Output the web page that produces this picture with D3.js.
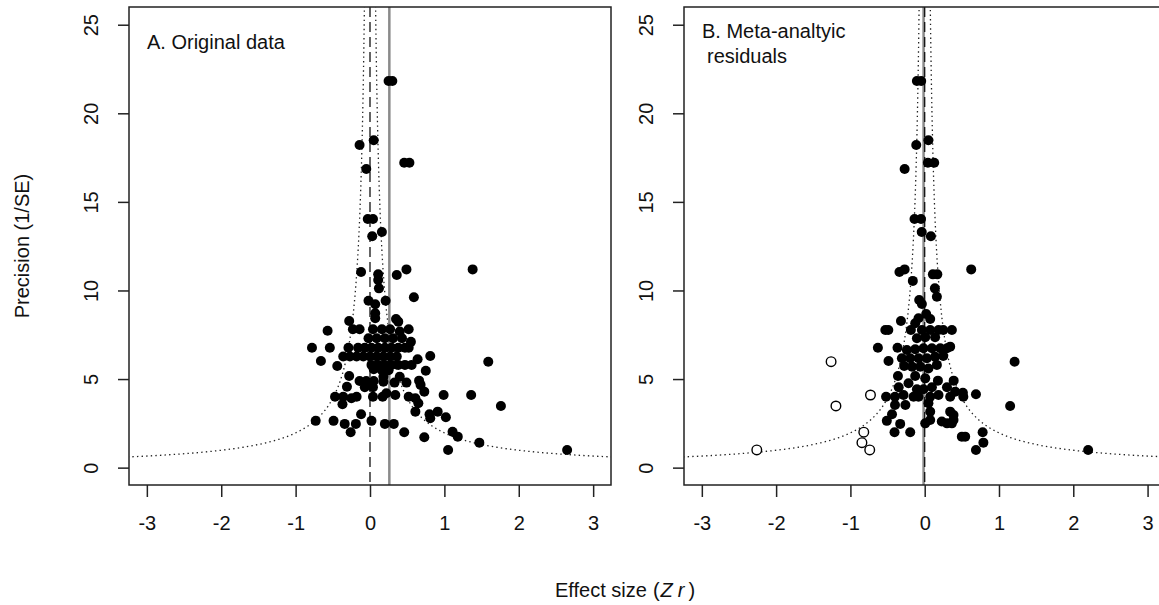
<!DOCTYPE html>
<html>
<head>
<meta charset="utf-8">
<script src="https://d3js.org/d3.v7.min.js"></script>
<style>
body { margin: 0; background: #fff; }
svg { display: block; font-family: "Liberation Sans", Arial, sans-serif; }
</style>
</head>
<body>
<svg width="1159" height="605"></svg>
<script>
// panel A - original data: effect size (Zr) and precision (1/SE)
var zrA = [0.25, 0.30, -0.14, 0.05, 0.46, 0.53, -0.05, -0.03, 0.04, 0.16, 0.03, -0.12, 0.11, 0.11, 0.12, 0.36, 0.49, 1.38,
    -0.02, 0.07, 0.21, 0.59, 0.07, 0.07, -0.28, 0.35, 0.38, -0.57, -0.23, -0.14, 0.04, 0.16, 0.27, 0.40, 0.52,
    -0.02, 0.09, 0.20, 0.31, 0.43, 0.55, -0.78, -0.54, -0.29, -0.16, -0.07, 0.02, 0.11, 0.20, 0.29, 0.38, 0.47, 0.52,
    -0.66, -0.44, -0.36, -0.27, -0.18, -0.09, 0.00, 0.09, 0.18, 0.27, 0.36, 0.64, 0.81,
    0.02, 0.11, 0.20, 0.29, 0.38, 0.47, 0.56, 0.75, 0.05, 0.16, 0.25, -0.28, 0.18, 0.18, 0.40, -0.14, -0.05, 0.05,
    0.66, 0.68, 0.49, 0.33, -0.31, -0.07, 0.04, -0.47, -0.36, -0.25, -0.18, 0.04, 0.17, 0.22, 0.34, 0.52, 0.61, 0.65,
    0.73, 0.99, 1.36, -0.37, -0.12, 0.61, 0.80, 0.81, 0.91, 1.02, -0.73, -0.49, -0.34, -0.19, -0.26, 0.02, 0.20, 0.32,
    0.46, 0.73, 1.11, 1.18, 1.05, 1.47, 1.59, 1.76, 2.65]
var precA = [21.82, 21.82, 18.21, 18.48, 17.21, 17.21, 16.86, 14.03, 14.03, 13.30, 13.06, 11.04, 10.91, 10.59, 10.12, 10.87, 11.19, 11.19,
    9.42, 9.22, 9.42, 9.62, 8.71, 8.43, 8.28, 8.39, 8.24, 7.73, 7.81, 7.81, 7.81, 7.81, 7.81, 7.68, 7.81,
    7.30, 7.30, 7.30, 7.30, 7.30, 7.10, 6.77, 6.77, 6.77, 6.77, 6.77, 6.77, 6.77, 6.77, 6.77, 6.77, 6.77, 6.77,
    6.02, 5.74, 6.27, 6.27, 6.27, 6.27, 6.27, 6.27, 6.27, 6.27, 6.27, 6.12, 6.30,
    5.80, 5.80, 5.80, 5.80, 5.80, 5.80, 5.80, 5.47, 5.55, 5.50, 5.50, 5.17, 5.13, 4.85, 5.13, 4.89, 4.89, 4.89,
    4.91, 4.67, 4.80, 4.80, 4.57, 4.54, 4.54, 4.00, 4.00, 3.92, 4.00, 4.00, 4.00, 4.20, 4.10, 4.00, 3.92, 3.63,
    4.29, 4.10, 4.10, 3.58, 3.01, 3.16, 3.01, 2.79, 3.16, 2.84, 2.64, 2.64, 2.47, 2.47, 2.00, 2.64, 2.47, 2.47,
    2.00, 1.72, 2.03, 1.75, 1.00, 1.41, 5.98, 3.48, 1.00]

// panel B - meta-analytic residuals
var zrB = [-0.105, -0.047, -0.114, 0.05, 0.043, 0.128, -0.27, -0.137, -0.05, -0.04, 0.083, -0.34, -0.27, -0.16, 0.11, 0.17,
    0.137, 0.626, -0.074, -0.038, 0.164, 0.02, 0.074, -0.32, -0.083, -0.128, -0.53, -0.49, -0.186,
    -0.038, 0.074, 0.186, 0.25, 0.366, -0.105, 0.007, 0.14, -0.63,
    -0.366, -0.24, -0.128, -0.016, 0.097, 0.209, 0.30, 0.343, -0.487,
    -0.307, -0.195, -0.083, 0.03, 0.14, 0.25, -0.276, -0.17, -0.06, 0.05, 0.164, 1.21,
    -0.36, -0.128, 0.007, -0.218, -0.35, 0.178, 0.39, 0.30, 0.41, -0.105, -0.016, 0.097, 0.514, 0.52, 0.69,
    -0.52, -0.40, -0.285, -0.15, -0.083, 0.074, 0.186, 0.343, -0.40, -0.26, 0.05, 0.074, 0.343, 0.388, 1.15,
    -0.44, -0.51, -0.33, 0.007, 0.074, 0.23, 0.30, 0.366, 0.388, -0.406, -0.195, 0.50, 0.545, 0.78, 0.79, 0.69, 2.20]
var precB = [21.82, 21.82, 18.21, 18.48, 17.21, 17.21, 16.86, 14.03, 14.03, 13.30, 13.06, 11.04, 11.19, 10.54, 10.91, 10.91,
    10.12, 11.19, 9.46, 9.24, 9.65, 8.67, 8.39, 8.28, 8.43, 8.15, 7.77, 7.77, 7.77,
    7.77, 7.77, 7.77, 7.77, 7.77, 7.30, 7.36, 7.36, 6.77,
    6.77, 6.64, 6.68, 6.74, 6.74, 6.74, 6.74, 6.83, 6.02,
    6.17, 6.17, 6.17, 6.17, 6.26, 6.30, 5.74, 5.70, 5.70, 5.60, 5.80, 5.98,
    5.17, 5.17, 5.04, 4.76, 4.54, 4.91, 4.91, 4.54, 4.29, 4.42, 4.42, 4.54, 4.23, 4.00, 4.14,
    4.00, 4.00, 4.10, 4.00, 4.00, 4.00, 4.10, 4.00, 3.54, 3.54, 3.63, 3.16, 3.16, 2.97, 3.48,
    3.01, 2.64, 2.47, 2.50, 2.69, 2.60, 2.50, 2.50, 2.69, 2.00, 2.00, 1.75, 1.75, 2.00, 1.41, 1.00, 1.00]
// trim-and-fill imputed studies (open circles)
var zrFill = [-2.26, -1.26, -1.195, -0.82, -0.845, -0.74, -0.73]
var precFill = [1.00, 5.98, 3.48, 2.00, 1.41, 1.00, 4.10]

// overall estimates (grey solid lines)
var estA = 0.26
var estB = -0.015

var xTicks = [-3, -2, -1, 0, 1, 2, 3]
var yTicks = [0, 5, 10, 15, 20, 25]
var funnelZ = 1.96

var svg = d3.select('svg')
var top_ = 7, bottom = 485

function drawPanel(id, left, right, pts, openPts, est) {
    var x = d3.scaleLinear().domain([-3.24, 3.24]).range([left, right])
    var y = d3.scaleLinear().domain([-0.98, 26.0]).range([bottom, top_])
    var g = svg.append('g')

    g.append('clipPath').attr('id', 'clip' + id)
        .append('rect').attr('x', left).attr('y', top_)
        .attr('width', right - left).attr('height', bottom - top_)
    var plot = g.append('g').attr('clip-path', 'url(#clip' + id + ')')

    // funnel (pseudo 95% CI around zero)
    var precs = d3.range(0.3, 26.6, 0.05)
    var line = d3.line().x(d => x(d[0])).y(d => y(d[1]))
    ;[-1, 1].forEach(s => {
        plot.append('path')
            .attr('d', line(precs.map(p => [s * funnelZ / p, p])))
            .attr('fill', 'none').attr('stroke', '#222')
            .attr('stroke-width', 1.3).attr('stroke-dasharray', '1.4,3.2')
    })

    // grey line at estimate, dashed line at zero
    plot.append('line')
        .attr('x1', x(est)).attr('x2', x(est)).attr('y1', top_).attr('y2', bottom)
        .attr('stroke', '#8a8a8a').attr('stroke-width', 2.5)
    plot.append('line')
        .attr('x1', x(0)).attr('x2', x(0)).attr('y1', top_).attr('y2', bottom)
        .attr('stroke', '#111').attr('stroke-width', 1.3).attr('stroke-dasharray', '10,5')

    plot.append('g').selectAll('circle').data(pts)
        .enter().append('circle')
        .attr('cx', d => x(d[0])).attr('cy', d => y(d[1]))
        .attr('r', 5).attr('fill', '#000')

    plot.append('g').selectAll('circle').data(openPts)
        .enter().append('circle')
        .attr('cx', d => x(d[0])).attr('cy', d => y(d[1]))
        .attr('r', 4.8).attr('fill', '#fff').attr('stroke', '#000').attr('stroke-width', 1.4)

    // frame
    g.append('rect').attr('x', left).attr('y', top_)
        .attr('width', right - left).attr('height', bottom - top_)
        .attr('fill', 'none').attr('stroke', '#222').attr('stroke-width', 1.5)

    var xAxis = g.append('g').attr('transform', `translate(0,${bottom})`)
        .call(d3.axisBottom(x).tickValues(xTicks).tickSize(12).tickFormat(d => String(d)))
    var yAxis = g.append('g').attr('transform', `translate(${left},0)`)
        .call(d3.axisLeft(y).tickValues(yTicks).tickSize(11).tickFormat(d => String(d)))
    ;[xAxis, yAxis].forEach(a => {
        a.select('.domain').remove()
        a.selectAll('line').attr('stroke', '#222').attr('stroke-width', 1.5)
        a.selectAll('text').attr('fill', '#111').style('font-size', '20px')
            .style('font-family', '"Liberation Sans", Arial, sans-serif')
    })
    xAxis.selectAll('text').attr('y', 45).attr('dy', 0)
    yAxis.selectAll('text').attr('x', 0).attr('dy', 0)
        .attr('text-anchor', 'middle')
        .attr('transform', 'translate(-31,0) rotate(-90)')
    return g
}

var gA = drawPanel('A', 129, 611, zrA.map((d, i) => [d, precA[i]]), [], estA)
var gB = drawPanel('B', 684, 1165.4, zrB.map((d, i) => [d, precB[i]]), zrFill.map((d, i) => [d, precFill[i]]), estB)

// panel labels
svg.append('text').attr('x', 147).attr('y', 49)
    .style('font-size', '20px').attr('fill', '#111').text('A. Original data')
var lab = svg.append('text').style('font-size', '20px').attr('fill', '#111')
lab.append('tspan').attr('x', 702).attr('y', 38).text('B. Meta-analtyic')
lab.append('tspan').attr('x', 707).attr('y', 63).text('residuals')

// axis titles
svg.append('text')
    .attr('transform', 'translate(29,246) rotate(-90)')
    .attr('text-anchor', 'middle')
    .style('font-size', '20px').attr('fill', '#111')
    .text('Precision (1/SE)')

var xt = svg.append('text').attr('x', 555).attr('y', 597)
    .style('font-size', '20px').attr('fill', '#111')
xt.append('tspan').text('Effect size')
xt.append('tspan').attr('dx', 6).text('(')
xt.append('tspan').attr('dx', 1).style('font-style', 'italic').text('Z')
xt.append('tspan').attr('dx', 5).style('font-style', 'italic').text('r')
xt.append('tspan').attr('dx', 4).text(')')
</script>
</body>
</html>
